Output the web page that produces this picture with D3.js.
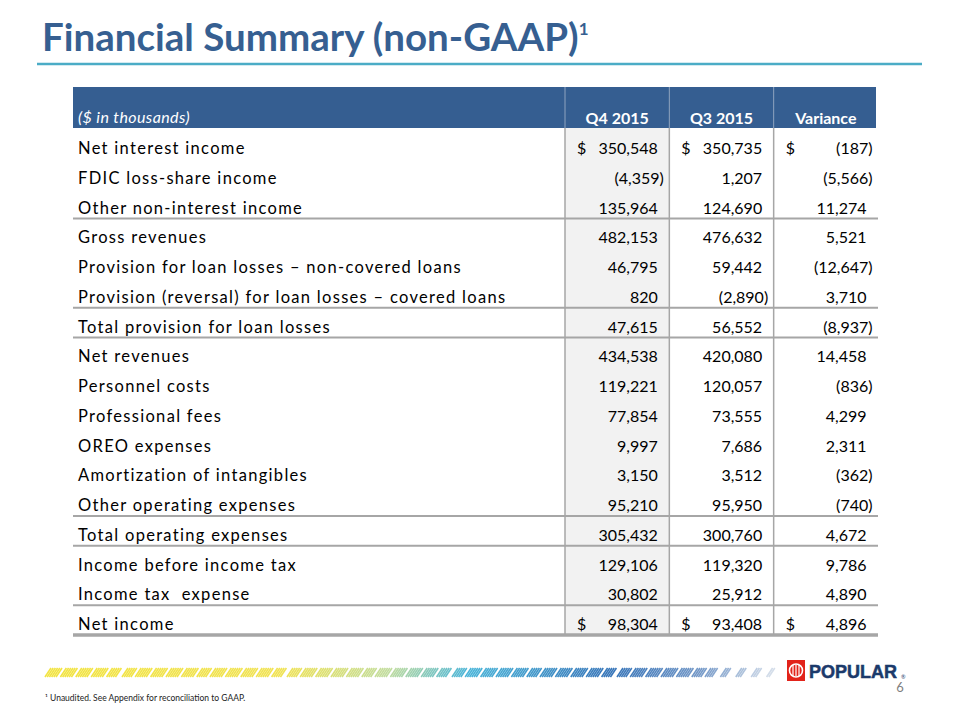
<!DOCTYPE html>
<html>
<head>
<meta charset="utf-8">
<script src="https://cdn.jsdelivr.net/npm/d3@7"></script>
<style>
  html, body { margin: 0; padding: 0; background: #fff; }
  svg { display: block; }
  text { white-space: pre; }
</style>
</head>
<body>
<div id="chart"></div>
<script>
// ---------------- DATA ----------------
const titleText = "Financial Summary (non-GAAP)";
const unitsLabel = "($ in thousands)";
const periods = ["Q4 2015", "Q3 2015", "Variance"];
const lineItems = [
  "Net interest income",
  "FDIC loss-share income",
  "Other non-interest income",
  "Gross revenues",
  "Provision for loan losses \u2013 non-covered loans",
  "Provision (reversal) for loan losses \u2013 covered loans",
  "Total provision for loan losses",
  "Net revenues",
  "Personnel costs",
  "Professional fees",
  "OREO expenses",
  "Amortization of intangibles",
  "Other operating expenses",
  "Total operating expenses",
  "Income before income tax",
  "Income tax  expense",
  "Net income"
];
const q4Values = [350548, -4359, 135964, 482153, 46795, 820, 47615, 434538, 119221, 77854, 9997, 3150, 95210, 305432, 129106, 30802, 98304];
const q3Values = [350735, 1207, 124690, 476632, 59442, -2890, 56552, 420080, 120057, 73555, 7686, 3512, 95950, 300760, 119320, 25912, 93408];
const varianceValues = [-187, -5566, 11274, 5521, -12647, 3710, -8937, 14458, -836, 4299, 2311, -362, -740, 4672, 9786, 4890, 4896];
const dollarRows = ["Net interest income", "Net income"];
const ruleRows = ["Other non-interest income", "Provision (reversal) for loan losses \u2013 covered loans",
  "Total provision for loan losses", "Other operating expenses", "Total operating expenses", "Income tax  expense"];
const footnote = "\u00b9 Unaudited. See Appendix for reconciliation to GAAP.";
const pageNumber = "6";

// ---------------- DRAW ----------------
const W = 960, H = 720;
const svg = d3.select("#chart").append("svg").attr("width", W).attr("height", H)
  .style("font-family", "Lato, 'Open Sans', sans-serif");

const navy = "#365F91";
const grid = "#a6a6a6";

// Title
const title = svg.append("text").attr("x", 42).attr("y", 51)
  .attr("font-size", 38.5).attr("font-weight", 700).attr("fill", navy)
  .text(titleText);
title.append("tspan").attr("dy", -16).attr("font-size", 17).text("1");
svg.append("line").attr("x1", 37).attr("x2", 922).attr("y1", 64).attr("y2", 64)
  .attr("stroke", "#4BACC6").attr("stroke-width", 2.5);

// Scales
const tableLeft = 73, tableRight = 878;
const x = d3.scaleBand().domain(periods).range([565, tableRight]);
const y = d3.scalePoint().domain(lineItems).range([154, 630]);
const headerTop = 87, headerBottom = 128, bodyBottom = y(lineItems[lineItems.length - 1]) + 5;

// Header band
svg.append("rect").attr("x", tableLeft).attr("y", headerTop)
  .attr("width", 876 - tableLeft).attr("height", headerBottom - headerTop).attr("fill", "#355E91");
svg.append("g").selectAll("line").data(periods).join("line")
  .attr("x1", d => x(d)).attr("x2", d => x(d))
  .attr("y1", headerTop).attr("y2", headerBottom)
  .attr("stroke", "#8fa3bf").attr("stroke-width", 1);
svg.append("text").attr("x", 78).attr("y", 123).attr("font-size", 16)
  .attr("letter-spacing", 0.4)
  .attr("font-style", "italic").attr("fill", "#fff").text(unitsLabel);
svg.append("g").selectAll("text").data(periods).join("text")
  .attr("x", d => x(d) + x.bandwidth() / 2).attr("y", 124)
  .attr("text-anchor", "middle").attr("font-size", 16).attr("font-weight", 700)
  .attr("fill", "#fff").text(d => d);

// Q4 column shading
svg.append("rect").attr("x", x(periods[0])).attr("y", headerBottom)
  .attr("width", x.bandwidth()).attr("height", bodyBottom - headerBottom).attr("fill", "#f2f2f2");

// Vertical separators
svg.append("g").selectAll("line").data(periods).join("line")
  .attr("x1", d => x(d)).attr("x2", d => x(d))
  .attr("y1", headerBottom).attr("y2", bodyBottom)
  .attr("stroke", grid).attr("stroke-width", 1.5);

// Horizontal rules
svg.append("g").selectAll("line").data(ruleRows).join("line")
  .attr("x1", tableLeft).attr("x2", tableRight)
  .attr("y1", d => y(d) + 5).attr("y2", d => y(d) + 5)
  .attr("stroke", grid).attr("stroke-width", 2);
svg.append("line").attr("x1", tableLeft).attr("x2", tableRight)
  .attr("y1", bodyBottom).attr("y2", bodyBottom)
  .attr("stroke", grid).attr("stroke-width", 3.5);

// Row labels
svg.append("g").selectAll("text").data(lineItems).join("text")
  .attr("x", 78).attr("y", d => y(d))
  .attr("font-size", 16.5).attr("letter-spacing", 1.3).attr("fill", "#000")
  .text(d => d);

// Values
const fmt = d3.format(",");
const fmtVal = v => v < 0 ? "(" + fmt(-v) + ")" : fmt(v);
const series = [q4Values, q3Values, varianceValues];
periods.forEach((p, ci) => {
  const g = svg.append("g");
  const vals = series[ci];
  g.selectAll("text.v").data(lineItems).join("text").attr("class", "v")
    .attr("x", (d, i) => x(p) + x.bandwidth() - (vals[i] < 0 ? 5.5 : 11.5))
    .attr("y", d => y(d))
    .attr("text-anchor", "end").attr("font-size", 16).attr("fill", "#000")
    .text((d, i) => fmtVal(vals[i]));
  g.selectAll("text.d").data(dollarRows).join("text").attr("class", "d")
    .attr("x", x(p) + 12).attr("y", d => y(d))
    .attr("font-size", 16).attr("fill", "#000").text("$");
});

// Footer decorative stripe
const stripeColor = d3.scaleLinear()
  .domain([0, 0.32, 0.47, 0.58, 0.78, 0.9, 1])
  .range(["#f2e33a", "#f1e24c", "#bfdc9c", "#43b2d8", "#2f6fb6", "#6f95c6", "#d5deea"]);
const stripeX0 = 45, stripeX1 = 770;
const stripeG = svg.append("g");
d3.range(stripeX0, stripeX1, 2.2).forEach(sx => {
  const t = (sx - stripeX0) / (stripeX1 - stripeX0);
  const inSeg = (sx - stripeX0) % 15;
  if (inSeg > 12.5 || (t > 0.92 && inSeg > 6)) return;
  stripeG.append("line")
    .attr("x1", sx).attr("y1", 677).attr("x2", sx + 6).attr("y2", 668)
    .attr("stroke", stripeColor(t)).attr("stroke-width", 1.6).attr("opacity", 0.95);
});

// Logo
const logo = svg.append("g");
logo.append("rect").attr("x", 787).attr("y", 660).attr("width", 18).attr("height", 21).attr("fill", "#e2231a");
logo.append("circle").attr("cx", 796).attr("cy", 670.5).attr("r", 6.5).attr("fill", "none").attr("stroke", "#fff").attr("stroke-width", 1.6);
[-3, 0, 3].forEach(dx => logo.append("line").attr("x1", 796 + dx).attr("x2", 796 + dx)
  .attr("y1", 665).attr("y2", 676).attr("stroke", "#fff").attr("stroke-width", 1.2));
logo.append("text").attr("x", 809).attr("y", 678).attr("font-family", "'Liberation Sans', Arial, sans-serif")
  .attr("font-size", 18).attr("font-weight", 700).attr("fill", "#1b3a6b")
  .attr("stroke", "#1b3a6b").attr("stroke-width", 0.5).text("POPULAR");
logo.append("text").attr("x", 901).attr("y", 679).attr("font-size", 5.5).attr("fill", "#1b3a6b").text("\u00ae");

svg.append("text").attr("x", 900).attr("y", 692).attr("text-anchor", "middle")
  .attr("font-size", 13).attr("fill", "#7f7f7f").text(pageNumber);

svg.append("text").attr("x", 45).attr("y", 701).attr("font-size", 8.5).attr("fill", "#222").text(footnote);
</script>
</body>
</html>
